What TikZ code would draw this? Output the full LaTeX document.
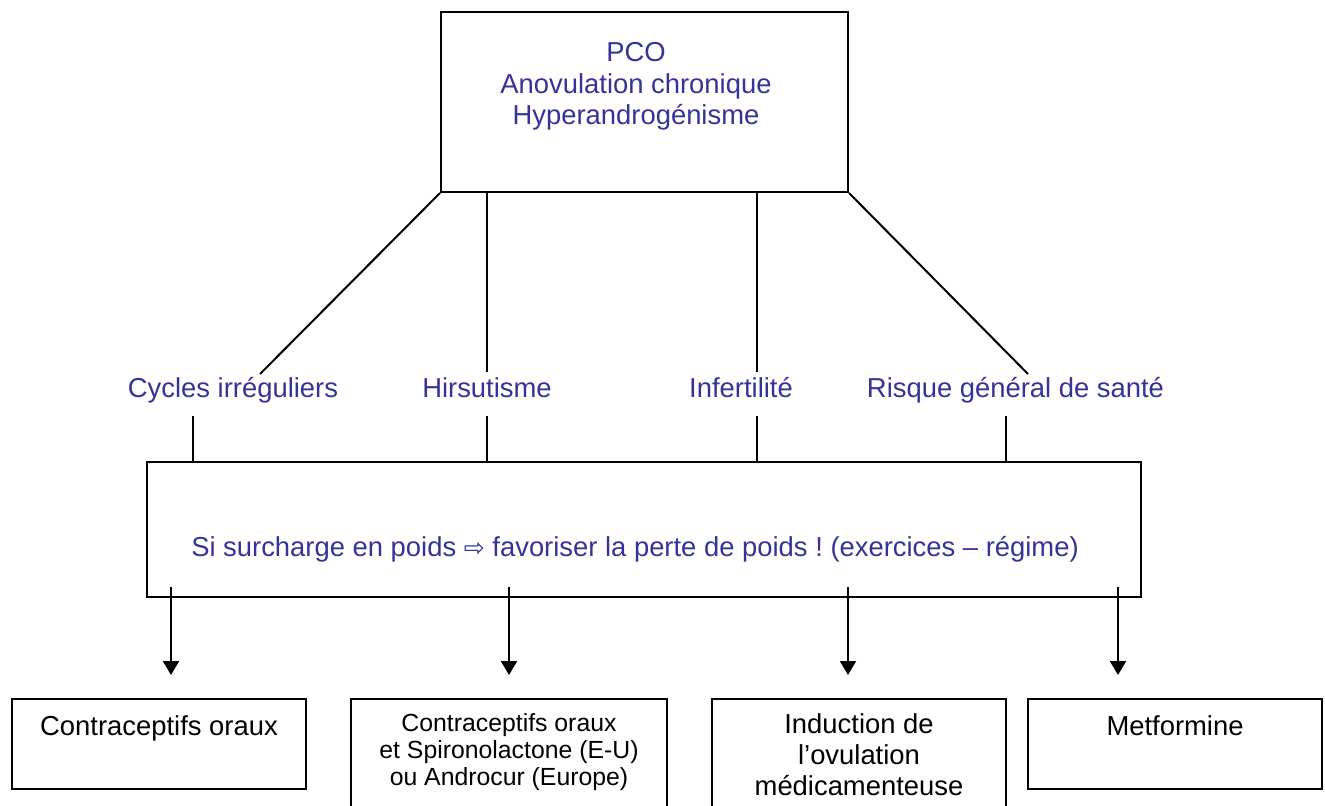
\documentclass[tikz,border=0pt]{standalone}
\usepackage{fontspec}
\setmainfont{Liberation Sans}
\newfontfamily\arrowfont{DejaVu Sans}
\usetikzlibrary{positioning,calc,arrows.meta}
\definecolor{pcoblue}{RGB}{51,51,153}
\frenchspacing

\begin{document}
\begin{tikzpicture}[x=0.5pt,y=-0.5pt,
  box/.style={draw, line width=1pt, inner sep=0pt},
  bluetxt/.style={text=pcoblue, font=\fontsize{13.7pt}{15.75pt}\selectfont, align=center, inner sep=0pt},
  blacktxt/.style={text=black, font=\fontsize{13.7pt}{15.5pt}\selectfont, align=center, inner sep=0pt},
  link/.style={line width=1pt},
  arr/.style={line width=1pt, -{Triangle[length=7pt,width=8pt]}}]
\useasboundingbox (0,0) rectangle (1325,806);

% Main box
\node (pco) [box, minimum width=203.5pt, minimum height=90pt] at (644.5,102) {};
\node (pcotxt) [bluetxt, anchor=north] at (636,42) {PCO\\Anovulation chronique\\Hyperandrogénisme};

% Symptoms
\node (cyc) [bluetxt, anchor=base] at (233,398) {Cycles irréguliers};
\node (hir) [bluetxt, anchor=base] at (487,398) {Hirsutisme};
\node (inf) [bluetxt, anchor=base] at (741,398) {Infertilité};
\node (risk) [bluetxt, anchor=base] at (1015.5,398) {Risque général de santé};

\coordinate (t1) at (260,374);
\coordinate (t2) at (487,372);
\coordinate (t3) at (757,372);
\coordinate (t4) at (1028,374);
\draw[link] (pco.south west) -- (t1);
\draw[link] (t2 |- pco.south) -- (t2);
\draw[link] (t3 |- pco.south) -- (t3);
\draw[link] (pco.south east) -- (t4);

% Weight box
\node (mid) [box, minimum width=497pt, minimum height=67.5pt] at (644,529.5) {};
\node (midtxt) [bluetxt, anchor=base] at (635,556) {Si surcharge en poids {\arrowfont\fontsize{12.5pt}{14pt}\selectfont ⇨} favoriser la perte de poids ! (exercices – régime)};

\foreach \x [count=\i] in {193,487,757,1006}
  {\coordinate (b\i) at (\x,416);
   \draw[link] (b\i) -- (b\i |- mid.north);}

% Treatments
\node (oc) [box, minimum width=147pt, minimum height=45pt] at (159,744) {};
\node (spiro) [box, minimum width=158pt, minimum height=62pt] at (509,761) {};
\node (ovul) [box, minimum width=147pt, minimum height=62pt] at (859,761) {};
\node (metf) [box, minimum width=147pt, minimum height=45pt] at (1175,744) {};

\node (octxt) [blacktxt, anchor=north] at (159,715) {Contraceptifs oraux};
\node (spirotxt) [blacktxt, font=\fontsize{12.4pt}{13.5pt}\selectfont, anchor=north] at (509,713) {Contraceptifs oraux\\et Spironolactone (E-U)\\ou Androcur (Europe)};
\node (ovultxt) [blacktxt, anchor=north] at (859,713) {Induction de\\l’ovulation\\médicamenteuse};
\node (metftxt) [blacktxt, anchor=north] at (1175,715) {Metformine};

\foreach \x [count=\i] in {171,509,848,1118}
  {\coordinate (a\i) at (\x,675);
   \draw[arr] ($(a\i |- mid.south)+(0,-11)$) -- (a\i);}

\end{tikzpicture}
\end{document}
